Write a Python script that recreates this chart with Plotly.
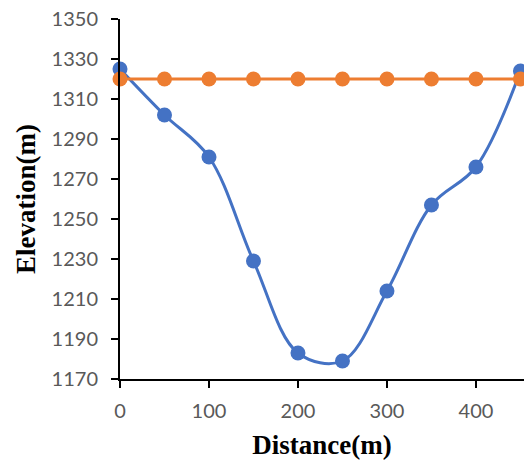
import plotly.graph_objects as go

distance = [0, 50, 100, 150, 200, 250, 300, 350, 400, 450]
elevation = [1325, 1302, 1281, 1229, 1183, 1179, 1214, 1257, 1276, 1324]
water_level = [1320] * 10
y_ticks = [1170, 1190, 1210, 1230, 1250, 1270, 1290, 1310, 1330, 1350]
x_ticks = [0, 100, 200, 300, 400]

fig = go.Figure()
fig.add_trace(go.Scatter(
    x=distance, y=elevation, mode="lines+markers",
    line=dict(color="#4472C4", width=3, shape="spline", smoothing=1),
    marker=dict(color="#4472C4", size=15),
    cliponaxis=False, showlegend=False))
fig.add_trace(go.Scatter(
    x=distance, y=water_level, mode="lines+markers",
    line=dict(color="#ED7D31", width=3),
    marker=dict(color="#ED7D31", size=15),
    cliponaxis=False, showlegend=False))

tick_font = dict(family="Lato, Calibri, sans-serif", size=20, color="#595959")
title_font = dict(family="Liberation Serif, Times New Roman, serif", size=27, color="black")

fig.update_layout(
    width=524, height=464,
    margin=dict(l=120, r=0, t=19, b=85),
    plot_bgcolor="white", paper_bgcolor="white",
    xaxis=dict(
        range=[0, 454], tickvals=x_ticks, showgrid=False, zeroline=False,
        showline=True, linecolor="black", linewidth=2,
        ticks="outside", ticklen=7, tickwidth=2, tickcolor="black",
        tickfont=tick_font, ticklabelstandoff=6,
        title=dict(text="<b>Distance(m)</b>", font=title_font, standoff=14),
    ),
    yaxis=dict(
        range=[1170, 1350], tickvals=y_ticks, showgrid=False, zeroline=False,
        showline=True, linecolor="black", linewidth=2,
        ticks="outside", ticklen=7, tickwidth=2, tickcolor="black",
        tickfont=tick_font, ticklabelstandoff=9,
        title=dict(text="<b>Elevation(m)</b>", font=title_font, standoff=8),
    ),
)

fig.write_html("out.html")
